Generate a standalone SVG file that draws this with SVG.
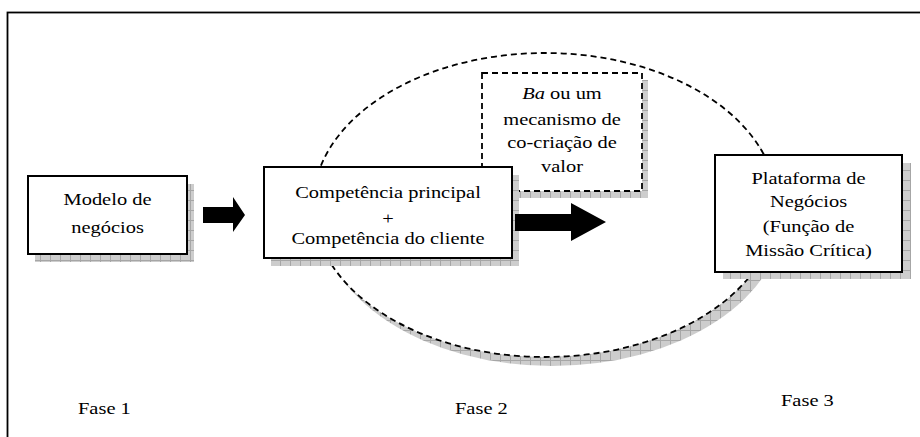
<svg xmlns="http://www.w3.org/2000/svg" width="920" height="437" viewBox="0 0 920 437">
<defs>
<pattern id="grid" width="10" height="10" patternUnits="userSpaceOnUse">
<rect width="10" height="10" fill="#cdcdcd"/>
<path d="M0 0.5H10M0.5 0V10" stroke="#a6a6a6" stroke-width="1" fill="none"/>
</pattern>
</defs>
<style>
.t{font-family:"Liberation Serif","Times New Roman",serif;font-size:16.5px;fill:#000}
.box{fill:#fff;stroke:#000;stroke-width:2}
.dbox{fill:#fff;stroke:#000;stroke-width:1.8;stroke-dasharray:6 4}
.sh{fill:url(#grid)}
.arrow{fill:#000}
</style>
<rect x="7.5" y="12.5" width="1000" height="1000" fill="#fff" stroke="#000" stroke-width="1.8"/>

<g id="phase2-ellipse">
<ellipse class="sh" cx="552" cy="214" rx="232" ry="152"/>
<ellipse cx="545" cy="205" rx="232" ry="152" fill="#fff" stroke="#000" stroke-width="1.8" stroke-dasharray="6 4"/>
</g>

<g id="node-model">
<rect class="sh" x="35" y="184" width="159" height="78"/>
<rect class="box" x="28" y="176" width="159" height="78"/>
<text class="t" text-anchor="middle" transform="translate(107.5,205) scale(1.24,1)">Modelo de</text>
<text class="t" text-anchor="middle" transform="translate(107.5,233) scale(1.24,1)">negócios</text>
</g>

<g id="node-ba">
<rect class="sh" x="489" y="80" width="159" height="118"/>
<rect class="dbox" x="482" y="73" width="160" height="118"/>
<text class="t" text-anchor="middle" transform="translate(562,99) scale(1.24,1)"><tspan font-style="italic">Ba</tspan> ou um</text>
<text class="t" text-anchor="middle" transform="translate(562,125) scale(1.24,1)">mecanismo de</text>
<text class="t" text-anchor="middle" transform="translate(562,148) scale(1.24,1)">co-criação de</text>
<text class="t" text-anchor="middle" transform="translate(562,172) scale(1.24,1)">valor</text>
</g>

<g id="node-competencia">
<rect class="sh" x="271" y="175" width="248" height="91"/>
<rect class="box" x="264" y="167" width="248" height="91"/>
<text class="t" text-anchor="middle" transform="translate(388,198) scale(1.24,1)">Competência principal</text>
<text class="t" text-anchor="middle" transform="translate(388,224) scale(1.24,1)">+</text>
<text class="t" text-anchor="middle" transform="translate(388,244) scale(1.24,1)">Competência do cliente</text>
</g>

<g id="node-plataforma">
<rect class="sh" x="723" y="163" width="188" height="116"/>
<rect class="box" x="715" y="155" width="187" height="117"/>
<text class="t" text-anchor="middle" transform="translate(808.5,184) scale(1.24,1)">Plataforma de</text>
<text class="t" text-anchor="middle" transform="translate(808.5,207) scale(1.24,1)">Negócios</text>
<text class="t" text-anchor="middle" transform="translate(808.5,232) scale(1.24,1)">(Função de</text>
<text class="t" text-anchor="middle" transform="translate(808.5,256) scale(1.24,1)">Missão Crítica)</text>
</g>

<g id="connectors">
<polygon class="arrow" points="203,207 233,207 233,197 245,215 233,232 233,223 203,223"/>
<polygon class="arrow" points="515,214 571,214 571,203 606,222 571,241 571,231 515,231"/>
</g>

<g id="labels">
<text class="t" transform="translate(78,414) scale(1.24,1)">Fase 1</text>
<text class="t" transform="translate(455,414) scale(1.24,1)">Fase 2</text>
<text class="t" transform="translate(781,406) scale(1.24,1)">Fase 3</text>
</g>
</svg>
